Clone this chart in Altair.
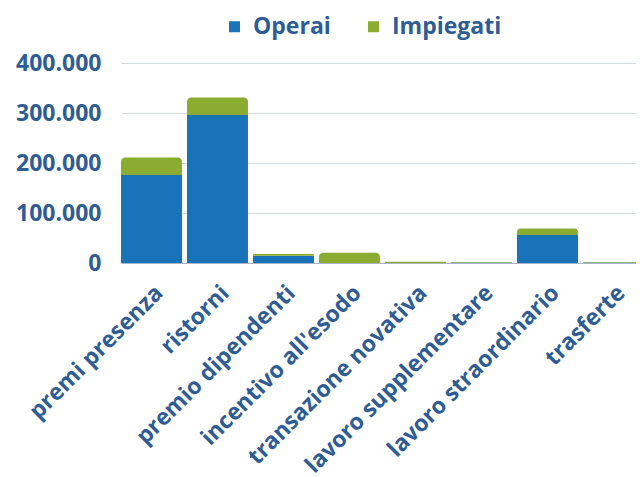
import altair as alt
import pandas as pd

categories = ["premi presenza", "ristorni", "premio dipendenti", "incentivo all'esodo",
              "transazione novativa", "lavoro supplementare", "lavoro straordinario", "trasferte"]
operai = [176000, 296000, 14500, 0, 0, 1000, 56000, 1000]
impiegati = [35000, 35000, 3500, 20500, 2500, 1000, 13000, 1000]
series = ["Operai", "Impiegati"]
colors = ["#1873b9", "#8aad31"]
text_color = "#2e5c95"

rows = []
for c, o, i in zip(categories, operai, impiegati):
    rows.append({"cat": c, "serie": "Operai", "ord": 0, "val": o})
    rows.append({"cat": c, "serie": "Impiegati", "ord": 1, "val": i})
df = pd.DataFrame(rows)

locale = {"decimal": ",", "thousands": ".", "grouping": [3], "currency": ["€", ""]}

x = alt.X("cat:N", sort=categories, title=None,
          scale=alt.Scale(paddingInner=0.076, paddingOuter=0, range=[0, 523]),
          axis=alt.Axis(labelAngle=-45, labelAlign="right", labelBaseline="middle",
                        labelFontSize=23, labelFontWeight="bold", labelColor=text_color,
                        labelFont="Open Sans", labelPadding=26, labelOffset=8, ticks=False,
                        grid=False,
                        domainColor="#aab6c6", domainWidth=1, labelOverlap=False,
                        labelLimit=500))
y_axis = alt.Axis(values=[0, 100000, 200000, 300000, 400000], format=",.0f",
                  labelFontSize=23, labelFontWeight="bold", labelColor=text_color,
                  labelFont="Open Sans", labelPadding=20, ticks=False, domain=False,
                  gridColor="#d3d9e1", gridWidth=1, title=None)
color = alt.Color("serie:N", sort=series,
                  scale=alt.Scale(domain=series, range=colors),
                  legend=alt.Legend(title=None, orient="none", direction="horizontal",
                                    legendX=102, legendY=-48, symbolType="square",
                                    symbolSize=121, symbolStrokeWidth=0,
                                    labelFontSize=23, labelFontWeight="bold",
                                    labelColor=text_color, labelFont="Open Sans",
                                    columnPadding=31, labelOffset=7))

base = alt.Chart(df).transform_stack(
    stack="val", groupby=["cat"], as_=["v0", "v1"],
    sort=[alt.SortField("ord", order="ascending")]
)

blue = base.transform_filter(alt.datum.serie == "Operai").mark_bar().encode(
    x=x,
    y=alt.Y("v1:Q", scale=alt.Scale(domain=[0, 400000]), axis=y_axis),
    y2="v0:Q",
    color=color,
)
green = base.transform_filter(alt.datum.serie == "Impiegati").mark_bar(
    cornerRadiusTopLeft=4, cornerRadiusTopRight=4
).encode(
    x=x,
    y=alt.Y("v1:Q", scale=alt.Scale(domain=[0, 400000]), axis=y_axis),
    y2="v0:Q",
    color=color,
)

chart = alt.layer(blue, green).properties(
    width=515, height=200,
    autosize=alt.AutoSizeParams(type="none"),
    padding={"left": 113, "top": 55, "right": 0, "bottom": 214},
).configure(background="white").configure_view(stroke=None, strokeWidth=0).configure_axisY(domain=False)

chart.save("out.html", embed_options={"renderer": "svg", "actions": False,
                                      "formatLocale": locale})
